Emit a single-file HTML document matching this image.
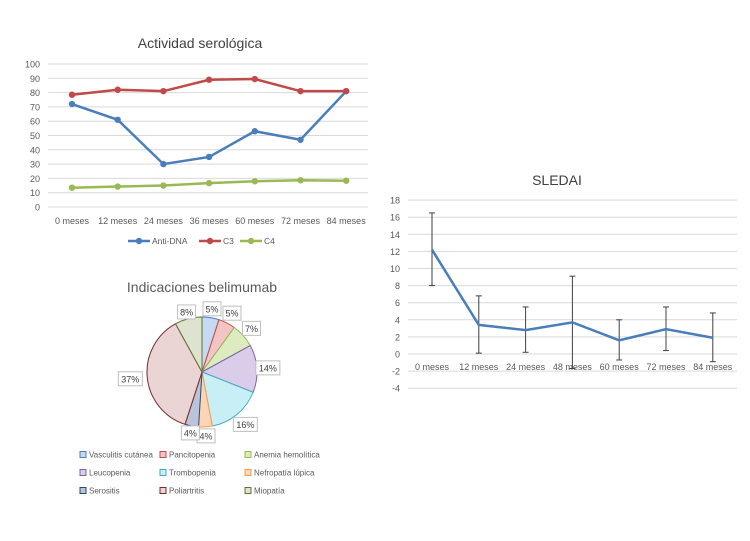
<!DOCTYPE html>
<html><head><meta charset="utf-8"><style>
body{margin:0;background:#fff;font-family:"Liberation Sans",sans-serif}
svg text{font-family:"Liberation Sans",sans-serif}
</style></head><body>
<svg width="750" height="536" viewBox="0 0 750 536">
<g id="c1"></g>
<g id="c2"></g>
<g id="c3"></g>
</svg>
<script>
const NS="http://www.w3.org/2000/svg";
function mk(p,t,a,txt){const e=document.createElementNS(NS,t);for(const k in a)e.setAttribute(k,a[k]);if(txt!=null)e.textContent=txt;p.appendChild(e);return e;}

// Chart 1 data
const months1=["0 meses","12 meses","24 meses","36 meses","60 meses","72 meses","84 meses"];
const antiDNA=[72,61,30,35,53,47,81];
const c3=[78.5,82,81,89,89.5,81,81];
const c4=[13.5,14.3,15,16.7,18,18.7,18.4];
const yTicks1=[0,10,20,30,40,50,60,70,80,90,100];

// Pie data
const pieLabels=["Vasculitis cutánea","Pancitopenia","Anemia hemolítica","Leucopenia","Trombopenia","Nefropatía lúpica","Serositis","Poliartritis","Miopatía"];
const pieValues=[5,5,7,14,16,4,4,37,8];

// SLEDAI data
const months3=["0 meses","12 meses","24 meses","48 meses","60 meses","72 meses","84 meses"];
const sledai=[12.2,3.4,2.8,3.7,1.6,2.9,1.9];
const sledaiHigh=[16.5,6.8,5.5,9.1,4.0,5.5,4.8];
const sledaiLow=[8.0,0.1,0.2,-1.7,-0.7,0.4,-0.9];
const yTicks3=[-4,-2,0,2,4,6,8,10,12,14,16,18];

// ---- Chart 1
(function(){
const g=document.getElementById('c1');
const y=v=>207-v*1.43, x=i=>72+i*45.7;
let t=mk(g,'text',{x:200,y:48,'text-anchor':'middle','font-size':14,fill:'#404040'},'Actividad serológica');

yTicks1.forEach(v=>{
 let l=mk(g,'line',{x1:48,x2:368,y1:y(v),y2:y(v),stroke:'#d9d9d9','stroke-width':1});
 
 let tt=mk(g,'text',{x:40,y:y(v)+3.5,'text-anchor':'end','font-size':9,fill:'#595959'},v);
 
});
months1.forEach((m,i)=>{let tt=mk(g,'text',{x:x(i),y:224,'text-anchor':'middle','font-size':9,fill:'#595959'},m);
 });
const series=[["anti-dna",antiDNA,'#4a7ebb'],["c3",c3,'#be4b48'],["c4",c4,'#98b954']];
series.forEach(([n,d,c])=>{
 let p=mk(g,'polyline',{points:d.map((v,i)=>x(i)+','+y(v)).join(' '),fill:'none',stroke:c,'stroke-width':2.5});
 
 d.forEach((v,i)=>{let ci=mk(g,'circle',{cx:x(i),cy:y(v),r:3.2,fill:c});
  });
});
const leg=[["Anti-DNA",'#4a7ebb',128],["C3",'#be4b48',199],["C4",'#98b954',240]];
leg.forEach(([n,c,lx])=>{
 let lg=mk(g,'g',{});
 mk(lg,'line',{x1:lx,x2:lx+22,y1:241,y2:241,stroke:c,'stroke-width':2.5});
 mk(lg,'circle',{cx:lx+11,cy:241,r:3.2,fill:c});
 mk(lg,'text',{x:lx+24,y:244,'font-size':8.5,fill:'#595959'},n);
});
})();

// ---- Pie
(function(){
const g=document.getElementById('c2');
let t=mk(g,'text',{x:202,y:292,'text-anchor':'middle','font-size':14,fill:'#595959'},'Indicaciones belimumab');

const fills=['#c6d9f1','#f2c4c4','#dcebc0','#d9cdea','#c8eef6','#fcd5b4','#b9c4d8','#ead4d4','#dde3cf'];
const strokes=['#4a7ebb','#be4b48','#98b954','#7e62a1','#46aac5','#f59d56','#2c4d75','#772c2a','#5f7530'];
const cx=202,cy=372,r=55;const total=pieValues.reduce((a,b)=>a+b,0);
let a0=-Math.PI/2;
const labelR=[64,66,66,66,68,64,62,72,62];
pieValues.forEach((v,i)=>{
 const a1=a0+v/total*2*Math.PI;
 const large=(a1-a0)>Math.PI?1:0;
 const d=`M${cx},${cy} L${cx+r*Math.cos(a0)},${cy+r*Math.sin(a0)} A${r},${r} 0 ${large} 1 ${cx+r*Math.cos(a1)},${cy+r*Math.sin(a1)} Z`;
 let p=mk(g,'path',{d,fill:fills[i],stroke:strokes[i],'stroke-width':1});
 
 const am=(a0+a1)/2, lr=labelR[i];
 const lx=cx+lr*Math.cos(am), ly=cy+lr*Math.sin(am);
 const txt=Math.round(v/total*100)+'%';const w=txt.length*6+6;
 let lb=mk(g,'g',{});
 mk(lb,'rect',{x:lx-w/2,y:ly-7,width:w,height:14,fill:'#fff',stroke:'#bfbfbf','stroke-width':1});
 mk(lb,'text',{x:lx,y:ly+3.5,'text-anchor':'middle','font-size':9,fill:'#404040'},txt);
 a0=a1;
});
const cols=[80,160,245],rows=[455,473,491];
pieLabels.forEach((n,i)=>{
 const lx=cols[i%3],ly=rows[Math.floor(i/3)];
 let lg=mk(g,'g',{});
 mk(lg,'rect',{x:lx,y:ly-3.5,width:6,height:6,fill:fills[i],stroke:strokes[i],'stroke-width':1});
 mk(lg,'text',{x:lx+9,y:ly+2.5,'font-size':8,fill:'#595959'},n);
});
})();

// ---- SLEDAI
(function(){
const g=document.getElementById('c3');
const y=v=>354-v*8.55, x=i=>432+i*46.8;
let t=mk(g,'text',{x:557,y:185,'text-anchor':'middle','font-size':14,fill:'#404040'},'SLEDAI');

yTicks3.forEach(v=>{
 let l=mk(g,'line',{x1:408,x2:737,y1:y(v),y2:y(v),stroke:'#d9d9d9','stroke-width':1});
 
 let tt=mk(g,'text',{x:400,y:y(v)+3.5,'text-anchor':'end','font-size':9,fill:'#595959'},v);
 
});
months3.forEach((m,i)=>{let tt=mk(g,'text',{x:x(i),y:370,'text-anchor':'middle','font-size':9,fill:'#595959'},m);
 });
sledai.forEach((v,i)=>{
 let e=mk(g,'g',{});
 mk(e,'line',{x1:x(i),x2:x(i),y1:y(sledaiHigh[i]),y2:y(sledaiLow[i]),stroke:'#404040','stroke-width':1});
 mk(e,'line',{x1:x(i)-3,x2:x(i)+3,y1:y(sledaiHigh[i]),y2:y(sledaiHigh[i]),stroke:'#404040','stroke-width':1});
 mk(e,'line',{x1:x(i)-3,x2:x(i)+3,y1:y(sledaiLow[i]),y2:y(sledaiLow[i]),stroke:'#404040','stroke-width':1});
});
let p=mk(g,'polyline',{points:sledai.map((v,i)=>x(i)+','+y(v)).join(' '),fill:'none',stroke:'#4a7ebb','stroke-width':2.5});

})();
</script>
</body></html>
